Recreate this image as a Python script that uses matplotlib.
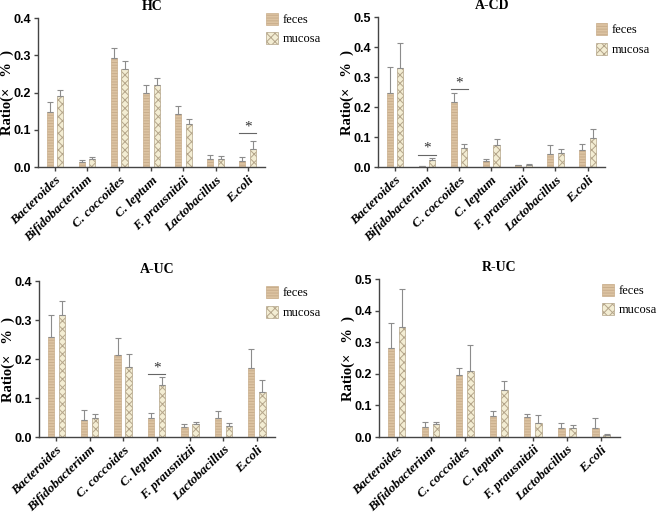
import numpy as np
import matplotlib.pyplot as plt

plt.rcParams['hatch.linewidth'] = 0.7

species = ["Bacteroides", "Bifidobacterium", "C. coccoides", "C. leptum",
           "F. prausnitzii", "Lactobacillus", "E.coli"]

# mean values and top of error bar
hc_feces = [0.147, 0.014, 0.293, 0.199, 0.142, 0.023, 0.016]
hc_feces_top = [0.174, 0.020, 0.319, 0.221, 0.165, 0.033, 0.027]
hc_mucosa = [0.192, 0.022, 0.264, 0.221, 0.115, 0.023, 0.050]
hc_mucosa_top = [0.208, 0.026, 0.284, 0.239, 0.130, 0.030, 0.070]

acd_feces = [0.246, 0.003, 0.217, 0.021, 0.006, 0.044, 0.056]
acd_feces_top = [0.333, 0.005, 0.247, 0.028, 0.007, 0.075, 0.078]
acd_mucosa = [0.329, 0.025, 0.064, 0.075, 0.008, 0.046, 0.097]
acd_mucosa_top = [0.415, 0.031, 0.076, 0.095, 0.010, 0.059, 0.126]

auc_feces = [0.256, 0.045, 0.211, 0.048, 0.025, 0.049, 0.177]
auc_feces_top = [0.313, 0.070, 0.255, 0.061, 0.033, 0.067, 0.227]
auc_mucosa = [0.313, 0.050, 0.180, 0.134, 0.033, 0.029, 0.116]
auc_mucosa_top = [0.349, 0.058, 0.214, 0.153, 0.039, 0.037, 0.147]

ruc_feces = [0.283, 0.031, 0.195, 0.068, 0.062, 0.029, 0.028]
ruc_feces_top = [0.360, 0.049, 0.220, 0.084, 0.072, 0.044, 0.059]
ruc_mucosa = [0.347, 0.040, 0.209, 0.149, 0.046, 0.028, 0.008]
ruc_mucosa_top = [0.470, 0.049, 0.292, 0.179, 0.069, 0.039, 0.011]

# significance marks: (group index, height of bracket line)
hc_sig = [(6, 0.091)]
acd_sig = [(1, 0.042), (2, 0.260)]
auc_sig = [(3, 0.161)]
ruc_sig = []

panels = [
    ("HC", hc_feces, hc_feces_top, hc_mucosa, hc_mucosa_top, hc_sig, 0.4,
     [0.058, 0.676, 0.344, 0.289], (0.396, 0.985)),
    ("A-CD", acd_feces, acd_feces_top, acd_mucosa, acd_mucosa_top, acd_sig, 0.5,
     [0.573, 0.676, 0.344, 0.291], (0.895, 0.965)),
    ("A-UC", auc_feces, auc_feces_top, auc_mucosa, auc_mucosa_top, auc_sig, 0.4,
     [0.059, 0.153, 0.358, 0.302], (0.396, 0.455)),
    ("R-UC", ruc_feces, ruc_feces_top, ruc_mucosa, ruc_mucosa_top, ruc_sig, 0.5,
     [0.574, 0.153, 0.365, 0.306], (0.905, 0.460)),
]

fig = plt.figure(figsize=(6.6, 5.16), dpi=100)

x = np.arange(len(species))
w = 0.19
off = 0.165
ecol = "#8c8c8c"

for title, fe, fe_top, mu, mu_top, sig, ymax, rect, leg in panels:
    ax = fig.add_axes(rect)
    fe = np.array(fe)
    mu = np.array(mu)
    b1 = ax.bar(x - off, fe, w, color="#dcc3a2", edgecolor="#c9ae8c",
                hatch="------", linewidth=0.5, label="feces", zorder=2)
    b2 = ax.bar(x + off, mu, w, color="#f3edd3", edgecolor="#b4a58a",
                hatch="xxxx", linewidth=0.5, label="mucosa", zorder=2)
    ax.errorbar(x - off, fe, yerr=[np.zeros(len(fe)), np.array(fe_top) - fe],
                fmt="none", ecolor=ecol, elinewidth=0.8, capsize=2, capthick=0.8, zorder=3)
    ax.errorbar(x + off, mu, yerr=[np.zeros(len(mu)), np.array(mu_top) - mu],
                fmt="none", ecolor=ecol, elinewidth=0.8, capsize=2, capthick=0.8, zorder=3)

    for i, h in sig:
        ax.plot([i - off - 0.1, i + off + 0.1], [h, h], color="#666666", lw=0.8)
        ax.text(i, h, "*", ha="center", va="bottom", fontsize=11,
                family="Liberation Serif", color="#333333")

    ax.set_xlim(-0.52, 6.55)
    ax.set_ylim(0, ymax)
    ticks = np.arange(0, ymax + 0.01, 0.1)
    ax.set_yticks(ticks)
    ax.set_yticklabels([f"{v:.1f}" for v in ticks],
                       fontsize=9, fontweight="bold", family="Liberation Sans")
    ax.set_xticks(x)
    ax.set_xticklabels(species, rotation=44, ha="right", rotation_mode="anchor",
                       fontsize=9.5, fontweight="bold", style="italic",
                       family="Liberation Serif")
    for s in ["top", "right"]:
        ax.spines[s].set_visible(False)
    for s in ["left", "bottom"]:
        ax.spines[s].set_color("#444444")
        ax.spines[s].set_linewidth(1.0)
    ax.tick_params(direction="out", length=3, width=1, color="#444444", pad=2)
    ax.set_ylabel("Ratio(×   %  )", fontsize=10.5, fontweight="bold",
                  family="Liberation Serif")
    # put the y label about 31 px left of the spine
    ax.yaxis.set_label_coords(-31 / (rect[2] * 660), 0.5)
    ax.yaxis.label.set_va("center")
    ax.set_title(title, fontsize=10, fontweight="bold", family="Liberation Serif", pad=6)
    fig.legend(handles=[b1, b2], loc="upper left", bbox_to_anchor=leg,
               frameon=False, prop={"family": "Liberation Serif", "size": 9},
               handlelength=0.9, handleheight=1.1, handletextpad=0.4,
               labelspacing=0.5, borderaxespad=0)

fig.savefig("out.png", dpi=100)
